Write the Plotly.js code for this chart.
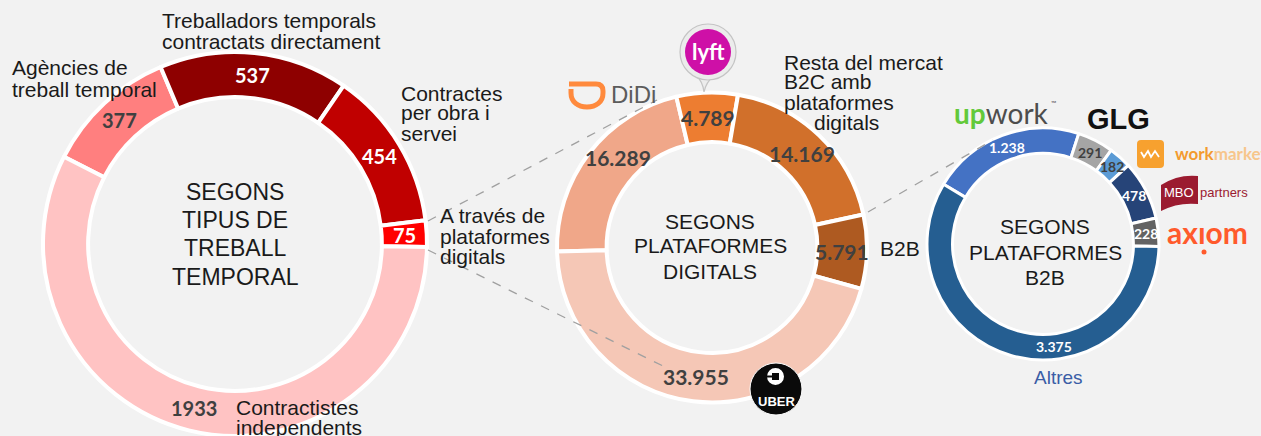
<!DOCTYPE html>
<html><head><meta charset="utf-8">
<script src="https://cdn.plot.ly/plotly-3.0.1.min.js"></script>
<style>html,body{margin:0;padding:0;background:#f2f2f2;overflow:hidden}</style>
</head><body><div id="chart" style="width:1261px;height:436px"></div>
<script>
// ---------- DATA ----------
const tipusLabels = ["Agències de treball temporal","Treballadors temporals contractats directament","Contractes per obra i servei","A través de plataformes digitals","Contractistes independents"];
const tipusValues = [377, 537, 454, 75, 1933];
const tipusText   = ["377", "537", "454", "75", "1933"];

const platLabels = ["DiDi","Lyft","Resta del mercat B2C amb plataformes digitals","B2B","Uber"];
const platValues = [16289, 4789, 14169, 5791, 33955];
const platText   = ["16.289", "4.789", "14.169", "5.791", "33.955"];

const b2bLabels = ["Upwork","GLG","WorkMarket","MBO Partners","Axiom","Altres"];
const b2bValues = [1238, 291, 182, 478, 228, 3375];
const b2bText   = ["1.238", "291", "182", "478", "228", "3.375"];

// ---------- STYLE / LAYOUT ----------
const W = 1261, H = 436;
const X = px => px / W, Y = py => 1 - py / H;
const TXT = "#1a1a1a", DARK = "#404040";

const donuts = [
  {labels: tipusLabels, values: tipusValues, text: tipusText, cx: 235, cy: 244, r: 192, hole: 0.765, rotation: -63,
   colors: ["#FF7F7F","#8E0000","#C00000","#FF0000","#FFC3C3"],
   tc: [DARK,"#ffffff","#ffffff","#ffffff",DARK], fs: 20, shift: [0,0,0,0,0], lw: 4},
  {labels: platLabels, values: platValues, text: platText, cx: 712, cy: 247.5, r: 155, hole: 0.68, rotation: -91.5,
   colors: ["#F0A789","#ED7D31","#D1702B","#AE5A21","#F5C7B6"],
   tc: [DARK,DARK,DARK,DARK,DARK], fs: 21, shift: [6,0,0,0,0], lw: 4},
  {labels: b2bLabels, values: b2bValues, text: b2bText, cx: 1043, cy: 244, r: 116, hole: 0.78, rotation: -59,
   colors: ["#4472C4","#A5A5A5","#5B9BD5","#264478","#636363","#255E91"],
   tc: ["#ffffff",DARK,DARK,"#ffffff","#ffffff","#ffffff"], fs: 14, shift: [0,0,0,0,0,-22], lw: 3}
];

const traces = donuts.map(d => ({
  type: "pie", labels: d.labels, values: d.values, sort: false, direction: "clockwise",
  rotation: d.rotation, hole: d.hole, textinfo: "none", hoverinfo: "label+value",
  marker: {colors: d.colors, line: {color: "#ffffff", width: d.lw}},
  domain: {x: [X(d.cx - d.r), X(d.cx + d.r)], y: [Y(d.cy + d.r), Y(d.cy - d.r)]},
  showlegend: false
}));

const ann = [];
// value labels computed from data
donuts.forEach(d => {
  const tot = d.values.reduce((a, b) => a + b, 0);
  let acc = 0;
  const rm = d.r * (1 + d.hole) / 2;
  d.values.forEach((v, i) => {
    const mid = (d.rotation + (acc + v / 2) / tot * 360 + d.shift[i]) * Math.PI / 180;
    acc += v;
    ann.push({xref: "paper", yref: "paper", x: X(d.cx + rm * Math.sin(mid)), y: Y(d.cy - rm * Math.cos(mid)),
      text: "<b>" + d.text[i] + "</b>", showarrow: false, xanchor: "center", yanchor: "middle", borderpad: 0,
      font: {family: "Lato, 'Open Sans', sans-serif", size: d.fs, color: d.tc[i]}});
  });
});

function lines(arr, x, ys, size, anchor, color, family) {
  arr.forEach((t, i) => ann.push({xref: "paper", yref: "paper", x: X(x), y: Y(ys[i]), text: t, showarrow: false,
    xanchor: anchor, yanchor: "middle", borderpad: 0,
    font: {family: family || "'Liberation Sans', Arial, sans-serif", size: size, color: color || TXT}}));
}
// center titles
lines(["SEGONS","TIPUS DE","TREBALL","TEMPORAL"], 235, [192,220,248,277], 23, "center");
lines(["SEGONS","PLATAFORMES","DIGITALS"], 710, [221,246,271], 21, "center");
lines(["SEGONS","PLATAFORMES","B2B"], 1045, [226,252,277], 21, "center");
// category labels
lines(["Agències de","treball temporal"], 11, [68,89], 21, "left");
lines(["Treballadors temporals","contractats directament"], 161, [21,41], 21, "left");
lines(["Contractes","per obra i","servei"], 400, [93,113,133], 21, "left");
lines(["A través de","plataformes","digitals"], 439, [215,236,256], 21, "left");
lines(["Contractistes","independents"], 235, [407,427], 21, "left");
lines(["Resta del mercat","B2C amb","plataformes"], 783, [62,82,103], 21, "left");
lines(["digitals"], 813, [123], 21, "left");
lines(["B2B"], 879, [248], 21, "left");
lines(["Altres"], 1058, [377], 19, "center", "#3A5DA6");

// ---------- logos (approximations) ----------
function pth(s) {
  const tk = s.trim().split(/\s+/); let out = []; let k = 0;
  tk.forEach(t => { if (/^[A-Za-z]$/.test(t)) { out.push(t); k = 0; } else { out.push(k % 2 === 0 ? X(+t) : Y(+t)); k++; } });
  return out.join(" ");
}
const shapes = [
  // dashed connectors
  {type: "line", xref: "paper", yref: "paper", x0: X(428), y0: Y(221), x1: X(657), y1: Y(100), line: {color: "#A0A0A0", width: 1.3, dash: "dash"}},
  {type: "line", xref: "paper", yref: "paper", x0: X(428), y0: Y(250), x1: X(665), y1: Y(367), line: {color: "#A0A0A0", width: 1.3, dash: "dash"}},
  {type: "line", xref: "paper", yref: "paper", x0: X(868), y0: Y(212), x1: X(993), y1: Y(140), line: {color: "#A0A0A0", width: 1.3, dash: "dash"}},
  // DiDi mark
  {type: "path", xref: "paper", yref: "paper", path: pth("M 569 84 L 596 84 C 601 84 603 87 603 91 L 603 93 C 603 102 596 107 587 107 C 578 107 571 102 571 93 L 571 89"), line: {color: "#FF8A3D", width: 5}},
  // Lyft pin
  {type: "path", xref: "paper", yref: "paper", path: pth("M 696 75 Q 703 82 704 92 Q 706 82 714 76 Z"), fillcolor: "#ececec", line: {color: "#c4c4c4", width: 1.2}},
  {type: "circle", xref: "paper", yref: "paper", x0: X(680), x1: X(736), y0: Y(24), y1: Y(80), fillcolor: "#ececec", line: {color: "#c4c4c4", width: 1.2}},
  {type: "circle", xref: "paper", yref: "paper", x0: X(685), x1: X(731), y0: Y(29), y1: Y(75), fillcolor: "#CE10A7", line: {width: 0}},
  // Uber
  {type: "circle", xref: "paper", yref: "paper", x0: X(750), x1: X(802), y0: Y(363), y1: Y(415), fillcolor: "#0a0a0a", line: {color: "#ffffff", width: 1}},
  {type: "circle", xref: "paper", yref: "paper", x0: X(767), x1: X(784), y0: Y(368), y1: Y(385), fillcolor: "#ffffff", line: {width: 0}},
  {type: "rect", xref: "paper", yref: "paper", x0: X(772), x1: X(779), y0: Y(373), y1: Y(380), fillcolor: "#0a0a0a", line: {width: 0}},
  {type: "line", xref: "paper", yref: "paper", x0: X(766), x1: X(775), y0: Y(376.5), y1: Y(376.5), line: {color: "#0a0a0a", width: 2}},
  // WorkMarket square
  {type: "path", xref: "paper", yref: "paper", path: pth("M 1141 140 L 1160 140 Q 1164 140 1164 144 L 1164 164 Q 1164 168 1160 168 L 1141 168 Q 1137 168 1137 164 L 1137 144 Q 1137 140 1141 140 Z"), fillcolor: "#F7A12F", line: {width: 0}},
  {type: "path", xref: "paper", yref: "paper", path: pth("M 1141 152 L 1144 157 L 1148 151 L 1151 157 L 1155 151 L 1159 157"), line: {color: "#ffffff", width: 1.8}},
  // MBO flag
  {type: "path", xref: "paper", yref: "paper", path: pth("M 1161 185 Q 1178 174 1198 176 L 1198 204 Q 1178 202 1161 211 Z"), fillcolor: "#9B1B30", line: {width: 0}},
  // axiom dot
  {type: "circle", xref: "paper", yref: "paper", x0: X(1201.5), x1: X(1206.5), y0: Y(249.5), y1: Y(254.5), fillcolor: "#FF5A2C", line: {width: 0}}
];

const logo = (t, x, y, size, color, family, anchor) => ann.push({xref: "paper", yref: "paper", x: X(x), y: Y(y), text: t,
  showarrow: false, xanchor: anchor || "center", yanchor: "middle", borderpad: 0,
  font: {family: family || "Lato, sans-serif", size: size, color: color}});
logo("DiDi", 633, 95, 24, "#5c5c5c", "'Liberation Sans', Arial, sans-serif");
logo("<b>lyft</b>", 708, 51, 22, "#ffffff");
logo("<b>UBER</b>", 776, 401, 13, "#ffffff", "'Liberation Sans', Arial, sans-serif");
logo("<span style='color:#62C93A'><b>up</b></span>work", 953, 113, 28, "#4d4d4d", null, "left");
logo("™", 1053, 103, 7, "#4d4d4d");
logo("<b>GLG</b>", 1118, 119, 29, "#111111", "'Liberation Sans', Arial, sans-serif");
logo("<b><span style='color:#F39B2F'>work</span><span style='color:#F7C68C'>market</span></b>", 1174, 153, 17, "#F39B2F", null, "left");
logo("MBO", 1179, 193, 13, "#ffffff", "'Liberation Sans', Arial, sans-serif");
logo("partners", 1199, 193, 13, "#9B1B30", "'Liberation Sans', Arial, sans-serif", "left");
logo("<b>axıom</b>", 1207, 232, 30, "#FF5A2C", null);

const layout = {
  width: W, height: H, margin: {l: 0, r: 0, t: 0, b: 0},
  paper_bgcolor: "#f2f2f2", plot_bgcolor: "#f2f2f2",
  showlegend: false, annotations: ann, shapes: shapes,
  font: {family: "'Liberation Sans', Arial, sans-serif"}
};
Plotly.newPlot("chart", traces, layout, {displayModeBar: false, staticPlot: true});
</script></body></html>
